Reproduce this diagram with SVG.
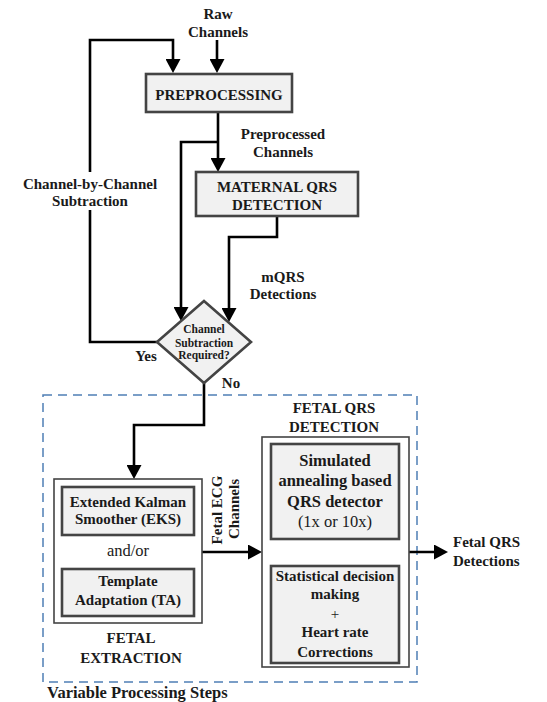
<svg xmlns="http://www.w3.org/2000/svg" width="547" height="702" viewBox="0 0 547 702">
<style>
text{font-family:"Liberation Serif","Times New Roman",serif;font-weight:bold;font-size:15px;fill:#1a1a1a;text-anchor:middle}
.n{font-weight:normal}
.big{font-size:16.5px}
.sm{font-size:11.5px}
.box{fill:#f1f1f1;stroke:#444;stroke-width:2.6}
.outer{fill:#fff;stroke:#444;stroke-width:1.6}
.conn{fill:none;stroke:#000;stroke-width:2.6}
</style>
<defs>
<marker id="ah" markerUnits="userSpaceOnUse" markerWidth="14" markerHeight="15" refX="10" refY="7.5" orient="auto">
<path d="M0,0 L14,7.5 L0,15 z" fill="#000"/>
</marker>
</defs>
<rect x="0" y="0" width="547" height="702" fill="#fff"/>
<rect id="variable-steps" x="43" y="395" width="374" height="287" fill="none" stroke="#4f7fb5" stroke-width="1.5" stroke-dasharray="9,6"/>
<g id="connectors">
<path class="conn" d="M217,40 V69" marker-end="url(#ah)"/>
<path class="conn" d="M157,342 H90 V210 M90,172 V40 H173 V69" marker-end="url(#ah)"/>
<path class="conn" d="M218,112 V168" marker-end="url(#ah)"/>
<path class="conn" d="M218,142 H181 V317" marker-end="url(#ah)"/>
<path class="conn" d="M277,216 V237 H229 V318" marker-end="url(#ah)"/>
<path class="conn" d="M204,383 V425 H134 V475" marker-end="url(#ah)"/>
<path class="conn" d="M202,552 H258" marker-end="url(#ah)"/>
<path class="conn" d="M335,539 V562" marker-end="url(#ah)"/>
<path class="conn" d="M409,552 H444" marker-end="url(#ah)"/>
</g>
<g id="raw-label"><text x="218" y="19">Raw</text><text x="218" y="37">Channels</text></g>
<g id="preprocessing"><rect class="box" x="146" y="74" width="146" height="38"/><text x="219" y="100">PREPROCESSING</text></g>
<g id="preprocessed-label"><text x="283" y="139">Preprocessed</text><text x="283" y="157">Channels</text></g>
<g id="subtraction-label"><text x="90" y="189">Channel-by-Channel</text><text x="90" y="206">Subtraction</text></g>
<g id="maternal-qrs"><rect class="box" x="196" y="172" width="162" height="44"/><text x="277" y="192">MATERNAL QRS</text><text x="277" y="210">DETECTION</text></g>
<g id="mqrs-label"><text x="283" y="282">mQRS</text><text x="283" y="299">Detections</text></g>
<g id="decision"><path class="box" d="M204,301 L251,342 L204,383 L157,342 z"/><text class="sm" x="204" y="333">Channel</text><text class="sm" x="204" y="347">Subtraction</text><text class="sm" x="204" y="359">Required?</text></g>
<text x="146" y="361">Yes</text>
<text x="231" y="388">No</text>
<g id="fetal-extraction"><rect class="outer" x="54" y="479" width="148" height="144"/>
<g id="eks"><rect class="box" x="62" y="487" width="132" height="48"/><text x="128" y="507">Extended Kalman</text><text x="128" y="524">Smoother (EKS)</text></g>
<text class="n big" x="128" y="556">and/or</text>
<g id="ta"><rect class="box" x="62" y="569" width="132" height="47"/><text x="128" y="586">Template</text><text x="128" y="605">Adaptation (TA)</text></g>
<text x="131" y="643">FETAL</text><text x="131" y="663">EXTRACTION</text></g>
<g id="fetal-ecg-label"><text transform="translate(222,510) rotate(-90)">Fetal ECG</text><text transform="translate(239,509) rotate(-90)">Channels</text></g>
<g id="fetal-qrs-detection"><text x="334" y="413">FETAL QRS</text><text x="334" y="432">DETECTION</text>
<rect class="outer" x="262" y="437" width="147" height="230"/>
<g id="sa"><rect class="box" x="271" y="444" width="128" height="95"/><text class="big" x="335" y="466">Simulated</text><text class="big" x="335" y="486">annealing based</text><text class="big" x="335" y="507">QRS detector</text><text class="n big" x="335" y="527">(1x or 10x)</text></g>
<g id="sd"><rect class="box" x="271" y="566" width="128" height="97"/><text x="335" y="581">Statistical decision</text><text x="335" y="599">making</text><text class="n" x="335" y="619">+</text><text x="335" y="637">Heart rate</text><text x="335" y="657">Corrections</text></g>
</g>
<g id="output-label"><text x="453" y="547" style="text-anchor:start">Fetal QRS</text><text x="453" y="566" style="text-anchor:start">Detections</text></g>
<text class="big" x="47" y="698" style="text-anchor:start">Variable Processing Steps</text>
</svg>
